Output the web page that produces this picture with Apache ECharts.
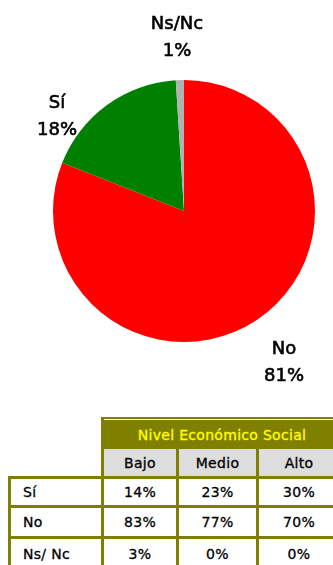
<!DOCTYPE html>
<html><head><meta charset="utf-8">
<script src="https://cdn.jsdelivr.net/npm/echarts@6/dist/echarts.min.js"></script>
<style>
html,body{margin:0;padding:0;background:#fff;overflow:hidden;}
#wrap{position:relative;width:333px;height:565px;overflow:hidden;}
#chart{position:absolute;left:0;top:0;width:333px;height:400px;}
.cell{position:absolute;box-sizing:border-box;font-family:"DejaVu Sans",sans-serif;font-size:14px;letter-spacing:0.3px;-webkit-text-stroke:0.3px currentColor;color:#000;display:flex;align-items:center;justify-content:center;}
</style></head>
<body><div id="wrap"><div id="chart"></div><div id="tbl"></div></div>
<script>
// Pie data
const pieCategories = ['No', 'Sí', 'Ns/Nc'];
const pieValues = [81, 18, 1];
const pieColors = ['#FF0000', '#008000', '#B2B2B2'];
// Table data
const tableTitle = 'Nivel Económico Social';
const tableColumns = ['Bajo', 'Medio', 'Alto'];
const tableRows = ['Sí', 'No', 'Ns/ Nc'];
const tableValues = [
  ['14%', '23%', '30%'],
  ['83%', '77%', '70%'],
  ['3%', '0%', '0%']
];

const labelPos = [[284, 363], [57, 117], [177, 38]];

const chart = echarts.init(document.getElementById('chart'), null, {renderer: 'canvas'});
chart.setOption({
  animation: false,
  series: [{
    type: 'pie',
    center: [184, 211],
    radius: 131,
    startAngle: 90,
    clockwise: true,
    avoidLabelOverlap: false,
    itemStyle: {borderWidth: 0},
    label: {
      show: true,
      position: 'outside',
      formatter: p => p.name + '\n' + p.value + '%',
      fontFamily: 'DejaVu Sans',
      fontSize: 18,
      lineHeight: 27,
      color: '#000',
      textBorderColor: '#000',
      textBorderWidth: 0.6,
      align: 'center'
    },
    labelLine: {show: false},
    labelLayout: p => ({x: labelPos[p.dataIndex][0], y: labelPos[p.dataIndex][1], align: 'center', verticalAlign: 'middle'}),
    data: pieCategories.map((n, i) => ({name: n, value: pieValues[i], itemStyle: {color: pieColors[i]}}))
  }]
});

// Table built from arrays
const OLIVE = '#808000';
const LW = 3;
const tbl = document.getElementById('tbl');
function box(x, y, w, h, bg, txt, extra) {
  const d = document.createElement('div');
  d.className = 'cell';
  d.style.left = x + 'px'; d.style.top = y + 'px';
  d.style.width = w + 'px'; d.style.height = h + 'px';
  d.style.background = bg;
  if (txt !== undefined) d.textContent = txt;
  if (extra) Object.assign(d.style, extra);
  tbl.appendChild(d);
  return d;
}
const xl = [8, 101, 176, 256, 339];
const yl = [476, 505, 536, 568];
// header block
box(101, 417, 245, 62, OLIVE);
box(104, 419, 243, 1, '#FFFFFF');
box(104, 420, 236, 29, OLIVE, tableTitle, {color: '#FFFF00'});
for (let i = 0; i < 3; i++) {
  box(xl[i + 1] + LW, 449, xl[i + 2] - xl[i + 1] - LW, 27, '#DDDDDD', tableColumns[i]);
}
// body
box(8, 476, 340, 100, OLIVE);
for (let r = 0; r < 3; r++) {
  const y = yl[r] + LW, h = yl[r + 1] - yl[r] - LW;
  box(xl[0] + LW, y, xl[1] - xl[0] - LW, h, '#FFFFFF', tableRows[r], {justifyContent: 'flex-start', paddingLeft: '12px'});
  for (let c = 0; c < 3; c++) {
    box(xl[c + 1] + LW, y, xl[c + 2] - xl[c + 1] - LW, h, '#FFFFFF', tableValues[r][c]);
  }
}
</script></body></html>
